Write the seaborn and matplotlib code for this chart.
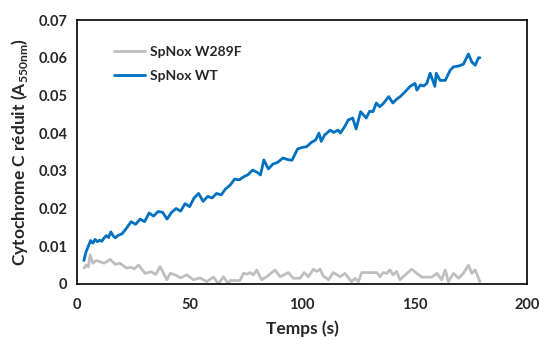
import matplotlib
matplotlib.use("Agg")
import matplotlib.pyplot as plt
import seaborn as sns
import pandas as pd

# Temps (s) et absorbance - SpNox WT
t_wt = [3, 4, 5, 6, 7, 8, 9, 10, 11, 12,
        13, 14, 15, 16, 17, 18, 20, 22, 24, 26,
        28, 30, 32, 34, 36, 38, 40, 42, 44, 46,
        48, 50, 52, 54, 56, 58, 60, 62, 64, 66,
        68, 70, 72, 74, 76, 78, 80, 81.5, 83, 85,
        87, 89, 91.5, 93.5, 95.5, 98, 100, 102, 104, 106,
        107.5, 108.5, 110, 112.5, 114, 116, 117, 119, 120.5, 122.5,
        124, 126, 128.5, 130, 131.5, 133, 134.5, 136, 138.5, 140.3,
        142, 143.6, 145.8, 148, 150.2, 151, 152.6, 154, 155.4, 156.9,
        159, 159.6, 161.3, 163.6, 165.8, 167.3, 169.5, 171.7, 173.9, 175.4,
        176.9, 178.4, 179]
a_wt = [0.0062, 0.0085, 0.0100, 0.0115, 0.0108, 0.0118, 0.0112, 0.0116, 0.0113, 0.0122,
        0.0128, 0.0123, 0.0138, 0.0128, 0.0122, 0.0128, 0.0133, 0.0148, 0.0165, 0.0158,
        0.0172, 0.0165, 0.0188, 0.0180, 0.0192, 0.0190, 0.0172, 0.0190, 0.0200, 0.0193,
        0.0213, 0.0205, 0.0228, 0.0240, 0.0219, 0.0232, 0.0228, 0.0240, 0.0236, 0.0252,
        0.0262, 0.0278, 0.0276, 0.0284, 0.0290, 0.0302, 0.0296, 0.0289, 0.0329, 0.0305,
        0.0318, 0.0322, 0.0334, 0.0330, 0.0328, 0.0358, 0.0362, 0.0364, 0.0375, 0.0382,
        0.0400, 0.0378, 0.0395, 0.0408, 0.0402, 0.0408, 0.0400, 0.0418, 0.0435, 0.0440,
        0.0411, 0.0457, 0.0440, 0.0458, 0.0457, 0.0480, 0.0470, 0.0478, 0.0497, 0.0480,
        0.0490, 0.0497, 0.0510, 0.0524, 0.0532, 0.0514, 0.0528, 0.0525, 0.0532, 0.0559,
        0.0524, 0.0559, 0.0540, 0.0540, 0.0567, 0.0576, 0.0578, 0.0583, 0.0610, 0.0589,
        0.0580, 0.0600, 0.0600]

# SpNox W289F
t_mut = [3.1, 4, 5, 5.8, 7, 8.5, 10.2, 12, 13.5, 14.7,
         17, 19, 22, 24, 25.5, 27.3, 30.2, 33, 35, 36.9,
         39.9, 41.4, 43.6, 45.9, 48.8, 51.7, 54.7, 57.6, 60.6, 62.8,
         65, 67.3, 68, 72.4, 73.9, 75.5, 76.9, 78.4, 79.8, 82,
         84.3, 88, 90.2, 93.9, 96.1, 99.1, 100.9, 102.8, 105, 106.5,
         108, 109.4, 111.7, 113.9, 116.9, 119, 122, 123.5, 125, 126.5,
         133.2, 134.6, 136, 137.6, 139, 140.5, 142, 143.5, 145.8, 148.7,
         151, 153.2, 157.6, 159.9, 162, 163.6, 165, 167.3, 169.5, 171.7,
         173.9, 175.4, 176.9, 179]
a_mut = [0.0042, 0.0050, 0.0045, 0.0077, 0.0055, 0.0062, 0.0059, 0.0055, 0.0060, 0.0065,
         0.0052, 0.0055, 0.0042, 0.0044, 0.0040, 0.0050, 0.0028, 0.0032, 0.0025, 0.0046,
         0.0011, 0.0028, 0.0024, 0.0016, 0.0024, 0.0011, 0.0016, 0.0006, 0.0018, 0.0000,
         0.0019, 0.0000, 0.0009, 0.0009, 0.0028, 0.0026, 0.0030, 0.0024, 0.0037, 0.0011,
         0.0019, 0.0037, 0.0019, 0.0030, 0.0015, 0.0015, 0.0030, 0.0019, 0.0039, 0.0033,
         0.0039, 0.0021, 0.0011, 0.0030, 0.0019, 0.0028, 0.0006, 0.0015, 0.0006, 0.0030,
         0.0030, 0.0019, 0.0030, 0.0028, 0.0037, 0.0024, 0.0033, 0.0011, 0.0024, 0.0039,
         0.0028, 0.0018, 0.0018, 0.0028, 0.0011, 0.0037, 0.0006, 0.0028, 0.0015, 0.0028,
         0.0050, 0.0028, 0.0037, 0.0006]

x_ticks = [0, 50, 100, 150, 200]
y_ticks = [0, 0.01, 0.02, 0.03, 0.04, 0.05, 0.06, 0.07]
y_labels = ["0", "0.01", "0.02", "0.03", "0.04", "0.05", "0.06", "0.07"]

sns.set_style("white")
plt.rcParams['font.family'] = ['Lato', 'DejaVu Sans']
plt.rcParams['mathtext.fontset'] = 'custom'
plt.rcParams['mathtext.rm'] = 'Lato:bold'
plt.rcParams['mathtext.bf'] = 'Lato:bold'

fig = plt.figure(figsize=(5.39, 3.40), dpi=100)
ax = fig.add_axes([0.143, 0.165, 0.835, 0.776])

df_mut = pd.DataFrame({"t": t_mut, "a": a_mut})
df_wt = pd.DataFrame({"t": t_wt, "a": a_wt})
sns.lineplot(data=df_mut, x="t", y="a", ax=ax, color="#BFBFBF", linewidth=2,
             estimator=None, label="SpNox W289F")
sns.lineplot(data=df_wt, x="t", y="a", ax=ax, color="#0070C0", linewidth=2,
             estimator=None, label="SpNox WT")

ax.set_xlim(0, 200)
ax.set_ylim(0, 0.07)
ax.set_xticks(x_ticks)
ax.set_yticks(y_ticks)
ax.set_yticklabels(y_labels)
for lab in ax.get_xticklabels() + ax.get_yticklabels():
    lab.set_fontweight("bold")
    lab.set_fontsize(10.5)

ax.tick_params(axis="x", direction="in", length=4, width=1, color="black", pad=10)
ax.tick_params(axis="y", direction="out", length=4, width=1, color="black", pad=3)
for sp in ax.spines.values():
    sp.set_color("black")
    sp.set_linewidth(1.2)

ax.set_xlabel("Temps (s)", fontsize=12.5, fontweight="bold", labelpad=6)
ax.set_ylabel(r"Cytochrome C réduit (A$_{\mathrm{550nm}}$)", fontsize=12.5,
              fontweight="bold", labelpad=6)

leg = ax.legend(loc="upper left", bbox_to_anchor=(0.055, 0.95), frameon=False,
                handlelength=2.2, handletextpad=0.4, labelspacing=0.9,
                prop={"weight": "bold", "size": 10})

fig.savefig("out.png", dpi=100)
